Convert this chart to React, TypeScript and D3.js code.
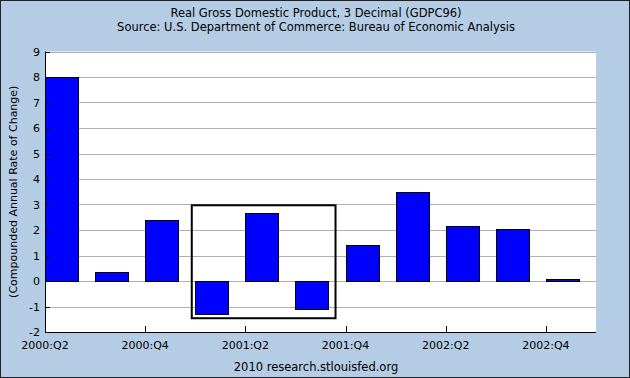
import React from "react";
import * as d3 from "d3";

const categories = ["2000:Q2","2000:Q3","2000:Q4","2001:Q1","2001:Q2","2001:Q3","2001:Q4","2002:Q1","2002:Q2","2002:Q3","2002:Q4"];
const values = [8.01, 0.35, 2.38, -1.31, 2.65, -1.11, 1.4, 3.48, 2.14, 2.03, 0.07];
const tickLabels = ["2000:Q2","2000:Q4","2001:Q2","2001:Q4","2002:Q2","2002:Q4"];
const yTicks = [-2,-1,0,1,2,3,4,5,6,7,8,9];
const boxX = [2.93, 5.8];
const boxY = [-1.46, 2.97];

const W = 630, H = 378;
const font = "DejaVu Sans, sans-serif";

export default function App() {
  const x = d3.scaleLinear().domain([0, categories.length]).range([45, 596]);
  const y = d3.scaleLinear().domain([-2, 9]).range([332, 51.5]);
  const barW = (x(1) - x(0)) * 2 / 3;
  return (
    <div style={{ position: "fixed", left: 0, top: 0 }}>
      <svg width={W} height={H} style={{ display: "block" }}>
        <rect x={0.5} y={0.5} width={W - 1} height={H - 1} fill="#B4CDE4" stroke="#222" strokeWidth={1} />
        <text x={316} y={17} textAnchor="middle" fontFamily={font} fontSize={11.5} fill="#000">Real Gross Domestic Product, 3 Decimal (GDPC96)</text>
        <text x={316} y={31} textAnchor="middle" fontFamily={font} fontSize={11.5} fill="#000">Source: U.S. Department of Commerce: Bureau of Economic Analysis</text>
        <rect x={x(0)} y={y(9)} width={x(categories.length) - x(0)} height={y(-2) - y(9)} fill="#fff" />
        {yTicks.map(t => (
          <line key={"g" + t} x1={x(0)} x2={x(categories.length)} y1={Math.round(y(t)) + 0.5} y2={Math.round(y(t)) + 0.5} stroke="#B0B0B0" strokeWidth={1} />
        ))}
        {values.map((v, i) => {
          const y0 = Math.round(y(Math.max(0, v)));
          const y1 = Math.round(y(Math.min(0, v)));
          return <rect key={i} x={Math.round(x(i)) + 0.5} y={y0 + 0.5} width={Math.round(barW)} height={Math.max(1, y1 - y0)} fill="#0000FF" stroke="#000" strokeWidth={1} />;
        })}
        {yTicks.map(t => (
          <g key={"t" + t}>
            <line x1={x(0)} x2={x(0) + 5} y1={Math.round(y(t)) + 0.5} y2={Math.round(y(t)) + 0.5} stroke="#000" />
            <text x={x(0) - 5} y={y(t) + 4} textAnchor="end" fontFamily={font} fontSize={11} fill="#000">{t}</text>
          </g>
        ))}
        {tickLabels.map((l) => {
          const i = categories.indexOf(l);
          const xx = Math.round(x(i)) + 0.5;
          return (
            <g key={l}>
              <line x1={xx} x2={xx} y1={y(-2)} y2={y(-2) - 6} stroke="#000" />
              <text x={x(i)} y={y(-2) + 17} textAnchor="middle" fontFamily={font} fontSize={11} fill="#000">{l}</text>
            </g>
          );
        })}
        <line x1={x(0) + 0.5} x2={x(0) + 0.5} y1={y(9)} y2={y(-2) + 0.5} stroke="#000" />
        <line x1={x(0)} x2={x(categories.length)} y1={Math.round(y(-2)) + 0.5} y2={Math.round(y(-2)) + 0.5} stroke="#000" />
        <rect x={x(boxX[0])} y={y(boxY[1])} width={x(boxX[1]) - x(boxX[0])} height={y(boxY[0]) - y(boxY[1])} fill="none" stroke="#000" strokeWidth={2} />
        <text transform={`translate(17,${(y(9) + y(-2)) / 2}) rotate(-90)`} textAnchor="middle" fontFamily={font} fontSize={11} fill="#000">(Compounded Annual Rate of Change)</text>
        <text x={316} y={371} textAnchor="middle" fontFamily={font} fontSize={11.5} fill="#000">2010 research.stlouisfed.org</text>
      </svg>
    </div>
  );
}
